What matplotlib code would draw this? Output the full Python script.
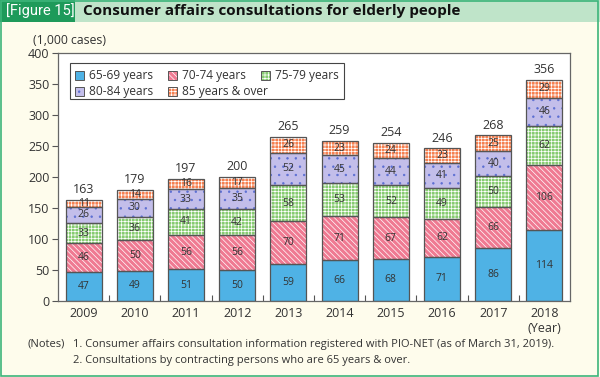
import matplotlib
matplotlib.use("Agg")
import matplotlib.pyplot as plt
from matplotlib.patches import Rectangle
import numpy as np

plt.rcParams['font.family'] = ['Open Sans', 'DejaVu Sans']
plt.rcParams['hatch.linewidth'] = 0.5

years = ["2009", "2010", "2011", "2012", "2013", "2014", "2015", "2016", "2017", "2018"]
age_65_69 = [47, 49, 51, 50, 59, 66, 68, 71, 86, 114]
age_70_74 = [46, 50, 56, 56, 70, 71, 67, 62, 66, 106]
age_75_79 = [33, 36, 41, 42, 58, 53, 52, 49, 50, 62]
age_80_84 = [26, 30, 33, 35, 52, 45, 44, 41, 40, 46]
age_85_over = [11, 14, 16, 17, 26, 23, 24, 23, 25, 29]
totals = [163, 179, 197, 200, 265, 259, 254, 246, 268, 356]
series_names = ["65-69 years", "70-74 years", "75-79 years", "80-84 years", "85 years & over"]

series = [age_65_69, age_70_74, age_75_79, age_80_84, age_85_over]
faces = ["#4FB2E5", "#EF7A92", "#86CB70", "#C3BEEA", "#F57F50"]
hatches = [None, "\\\\\\\\\\\\", "+++++", "..", "+++++"]
hatch_cols = [None, "white", "white", "#5B6ED2", "white"]

fig = plt.figure(figsize=(6.0, 3.77), dpi=100)
fig.patch.set_facecolor("#FEFCEC")
W, H = 600.0, 377.0

# title bar
fig.patches.append(Rectangle((0, 1 - 22/H), 1, 22/H, transform=fig.transFigure,
                             facecolor="#BFE4C9", edgecolor="none", zorder=0))
fig.patches.append(Rectangle((0, 1 - 22/H), 75/W, 22/H, transform=fig.transFigure,
                             facecolor="#1E9A5A", edgecolor="none", zorder=1))
fig.patches.append(Rectangle((1/W, 1/H), 597/W, 375/H, transform=fig.transFigure,
                             facecolor="none", edgecolor="#3DB57A", linewidth=1.2, zorder=2))
fig.text(6/W, 1 - 11/H, "[Figure 15]", color="white", fontsize=10.5,
         family=["Roboto", "DejaVu Sans"], va="center", ha="left")
fig.text(83/W, 1 - 11/H, "Consumer affairs consultations for elderly people",
         color="#111111", fontsize=11, fontweight="bold", va="center", ha="left")

ax = fig.add_axes([58/W, 1 - 301/H, 512/W, 248/H])
ax.set_facecolor("white")
x = np.arange(len(years))
w = 0.70
bottom = np.zeros(len(years))
for vals, fc, h, hc in zip(series, faces, hatches, hatch_cols):
    vals = np.array(vals, dtype=float)
    ax.bar(x, vals, w, bottom=bottom, color=fc, edgecolor="none", linewidth=0, zorder=2)
    if h:
        ax.bar(x, vals, w, bottom=bottom, facecolor="none", edgecolor=hc, hatch=h,
               linewidth=0, zorder=3)
    ax.bar(x, vals, w, bottom=bottom, facecolor="none", edgecolor="#555555",
           linewidth=0.9, zorder=4)
    for xi, b, v in zip(x, bottom, vals):
        ax.text(xi, b + v / 2, f"{int(v)}", ha="center", va="center", fontsize=7.5,
                color="#333333", zorder=5)
    bottom += vals

for xi, b, t in zip(x, bottom, totals):
    ax.text(xi, b + 6, str(t), ha="center", va="bottom", fontsize=9, color="#333333")

ax.set_xlim(-0.5, len(years) - 0.5)
ax.set_ylim(0, 400)
ax.set_yticks(range(0, 401, 50))
ax.tick_params(axis="y", direction="out", length=4, width=0.8, color="#555555",
               labelsize=9, labelcolor="#333333", pad=2)
ax.set_xticks(x)
labels = years[:-1] + [years[-1] + "\n(Year)"]
ax.set_xticklabels(labels, fontsize=9, color="#333333")
ax.tick_params(axis="x", length=0, pad=4)
ax.set_xticks(np.arange(0.5, len(years) - 1, 1), minor=True)
ax.tick_params(axis="x", which="minor", direction="in", length=4, color="#555555", width=0.8)
for s in ax.spines.values():
    s.set_color("#666666")
    s.set_linewidth(0.9)

# manual legend (figure pixel coordinates)
def fx(px):
    return px / W
def fy(py):
    return 1 - py / H

fig.patches.append(Rectangle((fx(70), fy(99)), 274/W, 36/H, transform=fig.transFigure,
                             facecolor="white", edgecolor="#444444", linewidth=0.8, zorder=5))
leg_pos = [(75, 75), (168, 75), (261, 75), (75, 91), (168, 91)]
for (px, py), fc, h, hc, name in zip(leg_pos, faces, hatches, hatch_cols, series_names):
    s = 9
    fig.patches.append(Rectangle((fx(px), fy(py + s/2)), s/W, s/H, transform=fig.transFigure,
                                 facecolor=fc, edgecolor="none", zorder=6))
    if h:
        fig.patches.append(Rectangle((fx(px), fy(py + s/2)), s/W, s/H, transform=fig.transFigure,
                                     facecolor="none", edgecolor=hc, hatch=h, linewidth=0, zorder=7))
    fig.patches.append(Rectangle((fx(px), fy(py + s/2)), s/W, s/H, transform=fig.transFigure,
                                 facecolor="none", edgecolor="#555555", linewidth=0.7, zorder=8))
    fig.text(fx(px + 14), fy(py), name, fontsize=8.6, color="#333333", va="center", ha="left",
             zorder=9)

fig.text(33/W, 1 - 40/H, "(1,000 cases)", fontsize=8.8, color="#333333", va="center", ha="left")
fig.text(28/W, 1 - 344/H, "(Notes)", fontsize=8, color="#333333", va="center")
fig.text(73/W, 1 - 344/H,
         "1. Consumer affairs consultation information registered with PIO-NET (as of March 31, 2019).",
         fontsize=8, color="#333333", va="center")
fig.text(73/W, 1 - 360/H, "2. Consultations by contracting persons who are 65 years & over.",
         fontsize=8, color="#333333", va="center")

fig.savefig("out.png", dpi=100, facecolor=fig.get_facecolor())
